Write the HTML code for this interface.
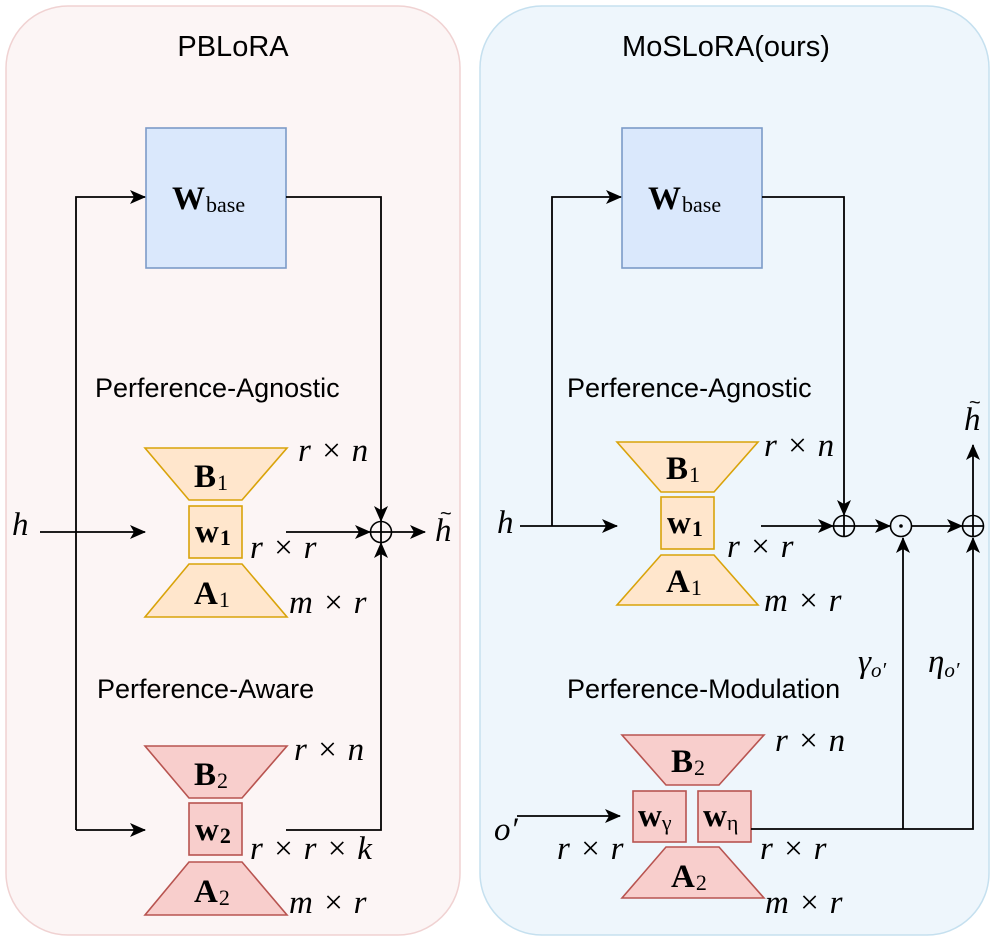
<!DOCTYPE html>
<html><head><meta charset="utf-8"><style>
html,body{margin:0;padding:0;background:#fff}
svg{display:block}
.t{font-family:"Liberation Sans",sans-serif;fill:#000}
.m{font-family:"Liberation Serif",serif;font-style:italic;font-size:33px;fill:#000;word-spacing:1px}
.b{font-family:"Liberation Serif",serif;font-weight:bold;font-size:33px;fill:#000}
.s{font-family:"Liberation Serif",serif;font-size:22px;font-style:normal;font-weight:normal}
.l{stroke:#000;stroke-width:1.8;fill:none}
</style></head><body>
<svg width="997" height="942" viewBox="0 0 997 942" xmlns="http://www.w3.org/2000/svg">
<defs>
<marker id="a" markerWidth="16" markerHeight="14" refX="15" refY="7" orient="auto" markerUnits="userSpaceOnUse">
<path d="M0,0 L16,7 L0,14 L4,7 Z" fill="#000"/></marker>
</defs>
<rect x="6" y="6" width="454" height="929" rx="62" fill="#fcf5f5" stroke="#f0d2d2" stroke-width="1.5"/>
<rect x="480" y="6" width="509" height="929" rx="62" fill="#eef6fc" stroke="#c5e0ef" stroke-width="1.5"/>
<text class="t" x="233" y="56" font-size="29" text-anchor="middle">PBLoRA</text>
<text class="t" x="726" y="56" font-size="29" text-anchor="middle">MoSLoRA(ours)</text>

<!-- LEFT -->
<rect x="146" y="128" width="140" height="140" fill="#dae8fc" stroke="#7c9bc8" stroke-width="1.6"/>
<text class="b" x="172" y="209" font-size="44">W<tspan class="s" font-size="26" dx="1" dy="3">base</tspan></text>
<text class="t" x="95" y="397" font-size="27">Perference-Agnostic</text>
<text class="t" x="97" y="698" font-size="27">Perference-Aware</text>
<polygon points="145,448 287,448 242,500 189,500" fill="#ffe6cc" stroke="#d9a30a" stroke-width="1.6"/>
<rect x="189" y="506" width="53" height="52" fill="#ffe6cc" stroke="#d9a30a" stroke-width="1.6"/>
<polygon points="189,564 242,564 287,617 145,617" fill="#ffe6cc" stroke="#d9a30a" stroke-width="1.6"/>
<text class="b" x="194" y="487">B<tspan class="s" dx="1" dy="3">1</tspan></text>
<text class="b" x="195" y="542" font-size="29">w<tspan dx="1" dy="3" font-size="22">1</tspan></text>
<text class="b" x="194" y="604">A<tspan class="s" dx="1" dy="3">1</tspan></text>
<text class="m" x="298" y="461">r × n</text>
<text class="m" x="250" y="558">r × r</text>
<text class="m" x="289" y="613">m × r</text>
<polygon points="145,746 287,746 242,798 189,798" fill="#f8cecc" stroke="#b85450" stroke-width="1.6"/>
<rect x="189" y="803" width="53" height="52" fill="#f8cecc" stroke="#b85450" stroke-width="1.6"/>
<polygon points="189,862 242,862 287,915 145,915" fill="#f8cecc" stroke="#b85450" stroke-width="1.6"/>
<text class="b" x="194" y="785">B<tspan class="s" dx="1" dy="3">2</tspan></text>
<text class="b" x="195" y="840" font-size="29">w<tspan dx="1" dy="3" font-size="22">2</tspan></text>
<text class="b" x="194" y="902">A<tspan class="s" dx="1" dy="3">2</tspan></text>
<text class="m" x="294" y="760">r × n</text>
<text class="m" x="250" y="859">r × r × k</text>
<text class="m" x="289" y="913">m × r</text>
<text class="m" x="12" y="535">h</text>
<path class="l" d="M40,532 L145,532" marker-end="url(#a)"/>
<path class="l" d="M76,830 L76,197 L145,197" marker-end="url(#a)"/>
<path class="l" d="M76,830 L145,830" marker-end="url(#a)"/>
<path class="l" d="M286,197 L381,197 L381,521" marker-end="url(#a)"/>
<path class="l" d="M286,532 L370,532" marker-end="url(#a)"/>
<path class="l" d="M286,830 L381,830 L381,543" marker-end="url(#a)"/>
<circle cx="381" cy="532" r="10.5" fill="none" stroke="#000" stroke-width="1.6"/>
<path class="l" d="M371,532 L391,532 M381,522 L381,542"/>
<path class="l" d="M392,532 L425,532" marker-end="url(#a)"/>
<text class="m" x="435" y="541">h</text>
<text class="t" x="440" y="520" font-size="20">~</text>

<!-- RIGHT -->
<rect x="622" y="128" width="140" height="140" fill="#dae8fc" stroke="#7c9bc8" stroke-width="1.6"/>
<text class="b" x="648" y="209" font-size="44">W<tspan class="s" font-size="26" dx="1" dy="3">base</tspan></text>
<text class="t" x="567" y="397" font-size="27">Perference-Agnostic</text>
<text class="t" x="567" y="698" font-size="27">Perference-Modulation</text>
<polygon points="617,442 758,442 714,492 661,492" fill="#ffe6cc" stroke="#d9a30a" stroke-width="1.6"/>
<rect x="661" y="497" width="53" height="52" fill="#ffe6cc" stroke="#d9a30a" stroke-width="1.6"/>
<polygon points="661,555 714,555 758,605 617,605" fill="#ffe6cc" stroke="#d9a30a" stroke-width="1.6"/>
<text class="b" x="666" y="479">B<tspan class="s" dx="1" dy="3">1</tspan></text>
<text class="b" x="667" y="533" font-size="29">w<tspan dx="1" dy="3" font-size="22">1</tspan></text>
<text class="b" x="666" y="592">A<tspan class="s" dx="1" dy="3">1</tspan></text>
<text class="m" x="764" y="456">r × n</text>
<text class="m" x="727" y="557">r × r</text>
<text class="m" x="764" y="611">m × r</text>
<polygon points="622,735 764,735 719,785 666,785" fill="#f8cecc" stroke="#b85450" stroke-width="1.6"/>
<rect x="633" y="791" width="53" height="51" fill="#f8cecc" stroke="#b85450" stroke-width="1.6"/>
<rect x="698" y="791" width="53" height="51" fill="#f8cecc" stroke="#b85450" stroke-width="1.6"/>
<polygon points="666,847 719,847 764,898 622,898" fill="#f8cecc" stroke="#b85450" stroke-width="1.6"/>
<text class="b" x="671" y="772">B<tspan class="s" dx="1" dy="3">2</tspan></text>
<text class="b" x="638" y="826" font-size="29">w<tspan class="s" font-style="italic" dy="4">γ</tspan></text>
<text class="b" x="703" y="826" font-size="29">w<tspan class="s" font-style="italic" dy="4">η</tspan></text>
<text class="b" x="671" y="887">A<tspan class="s" dx="1" dy="3">2</tspan></text>
<text class="m" x="775" y="751">r × n</text>
<text class="m" x="557" y="859">r × r</text>
<text class="m" x="760" y="859">r × r</text>
<text class="m" x="765" y="913">m × r</text>
<text class="m" x="858" y="672">γ<tspan font-size="21" dy="5">o′</tspan></text>
<text class="m" x="928" y="672">η<tspan font-size="21" dy="5">o′</tspan></text>
<text class="m" x="497" y="533">h</text>
<text class="m" x="494" y="840">o′</text>
<path class="l" d="M520,526 L617,526" marker-end="url(#a)"/>
<path class="l" d="M552,526 L552,197 L621,197" marker-end="url(#a)"/>
<path class="l" d="M762,197 L844,197 L844,515" marker-end="url(#a)"/>
<path class="l" d="M761,526 L833,526" marker-end="url(#a)"/>
<circle cx="844" cy="526" r="10.5" fill="none" stroke="#000" stroke-width="1.6"/>
<path class="l" d="M834,526 L854,526 M844,516 L844,536"/>
<path class="l" d="M855,526 L890,526" marker-end="url(#a)"/>
<circle cx="901" cy="526" r="10.5" fill="none" stroke="#000" stroke-width="1.6"/>
<circle cx="901" cy="526" r="1.8" fill="#000"/>
<path class="l" d="M912,526 L962,526" marker-end="url(#a)"/>
<circle cx="973" cy="526" r="10.5" fill="none" stroke="#000" stroke-width="1.6"/>
<path class="l" d="M963,526 L983,526 M973,516 L973,536"/>
<path class="l" d="M973,515 L973,445" marker-end="url(#a)"/>
<text class="m" x="964" y="430">h</text>
<text class="t" x="969" y="409" font-size="20">~</text>
<path class="l" d="M517,816 L620,816" marker-end="url(#a)"/>
<path class="l" d="M751,829 L973,829 L973,538" marker-end="url(#a)"/>
<path class="l" d="M903,829 L903,538" marker-end="url(#a)"/>
</svg>
</body></html>
